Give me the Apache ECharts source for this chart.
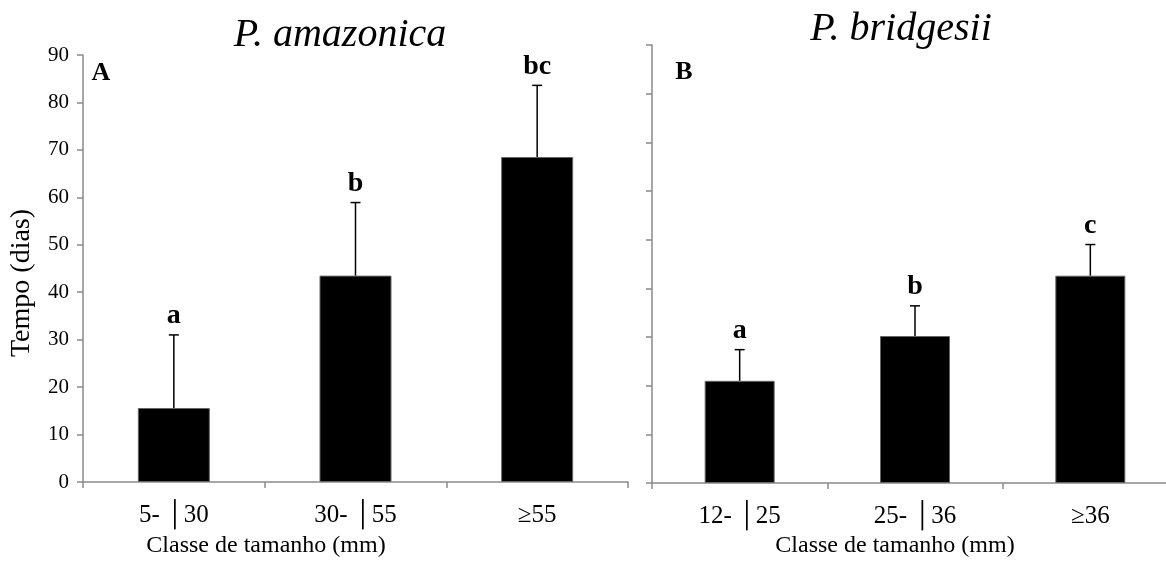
<!DOCTYPE html>
<html><head><meta charset="utf-8">
<script src="https://cdn.jsdelivr.net/npm/echarts@6/dist/echarts.min.js"></script>
<style>html,body{margin:0;padding:0;background:#fff}#c{width:1166px;height:565px}</style>
</head><body><div id="c"></div>
<script>
// Panel A: P. amazonica
const catsA = ['5- │30', '30- │55', '≥55'];
const meanA = [15.6, 43.5, 68.5];
const errA = [15.4, 15.4, 15.1];
const letA = ['a', 'b', 'bc'];
// Panel B: P. bridgesii
const catsB = ['12- │25', '25- │36', '≥36'];
const meanB = [21.0, 30.2, 42.6];
const errB = [6.4, 6.2, 6.4];
const letB = ['a', 'b', 'c'];
// Y axis
const yMin = 0, yMax = 90, yStep = 10;

const FF = '"Liberation Serif","Times New Roman",serif';
const AX = '#8a8a8a';

function errRenderer(letters) {
  return function (params, api) {
    const x = api.value(0), m = api.value(1), e = api.value(2);
    const p0 = api.coord([x, m]);
    const p1 = api.coord([x, m + e]);
    return {
      type: 'group',
      children: [
        { type: 'line', shape: { x1: p0[0], y1: p0[1], x2: p1[0], y2: p1[1] }, style: { stroke: '#000', lineWidth: 1.5 } },
        { type: 'line', shape: { x1: p1[0] - 5, y1: p1[1], x2: p1[0] + 5, y2: p1[1] }, style: { stroke: '#000', lineWidth: 1.5 } },
        { type: 'text', style: { text: letters[params.dataIndex], x: p1[0], y: p1[1] - 19, align: 'center', verticalAlign: 'middle', font: 'bold 28px ' + FF, fill: '#000' } }
      ]
    };
  };
}

function xAxisCfg(idx, cats) {
  return {
    type: 'category', gridIndex: idx, data: cats, boundaryGap: true,
    axisLine: { lineStyle: { color: AX, width: 1.5 } },
    axisTick: { show: true, length: 6, lineStyle: { color: AX, width: 1.5 } },
    axisLabel: { color: '#000', fontFamily: FF, fontSize: 25, margin: 21 },
    splitLine: { show: false }
  };
}
function yAxisCfg(idx, showLabels) {
  return {
    type: 'value', gridIndex: idx, min: yMin, max: yMax, interval: yStep,
    axisLine: { show: true, lineStyle: { color: AX, width: 1.5 } },
    axisTick: { show: true, length: 6, lineStyle: { color: AX, width: 1.5 } },
    axisLabel: { show: showLabels, color: '#000', fontFamily: FF, fontSize: 21, margin: 14 },
    splitLine: { show: false }
  };
}

const chart = echarts.init(document.getElementById('c'), null, { renderer: 'canvas' });
chart.setOption({
  backgroundColor: '#fff',
  animation: false,
  grid: [
    { left: 83, top: 55, width: 545, height: 427, outerBoundsMode: 'none', containLabel: false },
    { left: 652, top: 45, width: 526, height: 438, outerBoundsMode: 'none', containLabel: false }
  ],
  xAxis: [xAxisCfg(0, catsA), xAxisCfg(1, catsB)],
  yAxis: [yAxisCfg(0, true), yAxisCfg(1, false)],
  series: [
    { type: 'bar', xAxisIndex: 0, yAxisIndex: 0, data: meanA, barWidth: 72, itemStyle: { color: '#000', borderColor: '#666', borderWidth: 1 } },
    { type: 'bar', xAxisIndex: 1, yAxisIndex: 1, data: meanB, barWidth: 70, itemStyle: { color: '#000', borderColor: '#666', borderWidth: 1 } },
    { type: 'custom', xAxisIndex: 0, yAxisIndex: 0, z: 5, renderItem: errRenderer(letA), data: meanA.map((m, i) => [i, m, errA[i]]) },
    { type: 'custom', xAxisIndex: 1, yAxisIndex: 1, z: 5, renderItem: errRenderer(letB), data: meanB.map((m, i) => [i, m, errB[i]]) }
  ],
  graphic: [
    { type: 'text', x: 340, y: 35, style: { text: 'P. amazonica', font: 'italic 40px ' + FF, fill: '#000', align: 'center', verticalAlign: 'middle' } },
    { type: 'text', x: 901, y: 29, style: { text: 'P. bridgesii', font: 'italic 40px ' + FF, fill: '#000', align: 'center', verticalAlign: 'middle' } },
    { type: 'text', x: 101, y: 73, style: { text: 'A', font: 'bold 26px ' + FF, fill: '#000', align: 'center', verticalAlign: 'middle' } },
    { type: 'text', x: 684, y: 72, style: { text: 'B', font: 'bold 26px ' + FF, fill: '#000', align: 'center', verticalAlign: 'middle' } },
    { type: 'text', x: 22, y: 283, rotation: Math.PI / 2, style: { text: 'Tempo (dias)', font: '28px ' + FF, fill: '#000', align: 'center', verticalAlign: 'middle' } },
    { type: 'text', x: 266, y: 546, style: { text: 'Classe de tamanho (mm)', font: '24px ' + FF, fill: '#000', align: 'center', verticalAlign: 'middle' } },
    { type: 'text', x: 895, y: 546, style: { text: 'Classe de tamanho (mm)', font: '24px ' + FF, fill: '#000', align: 'center', verticalAlign: 'middle' } }
  ]
});
</script></body></html>
